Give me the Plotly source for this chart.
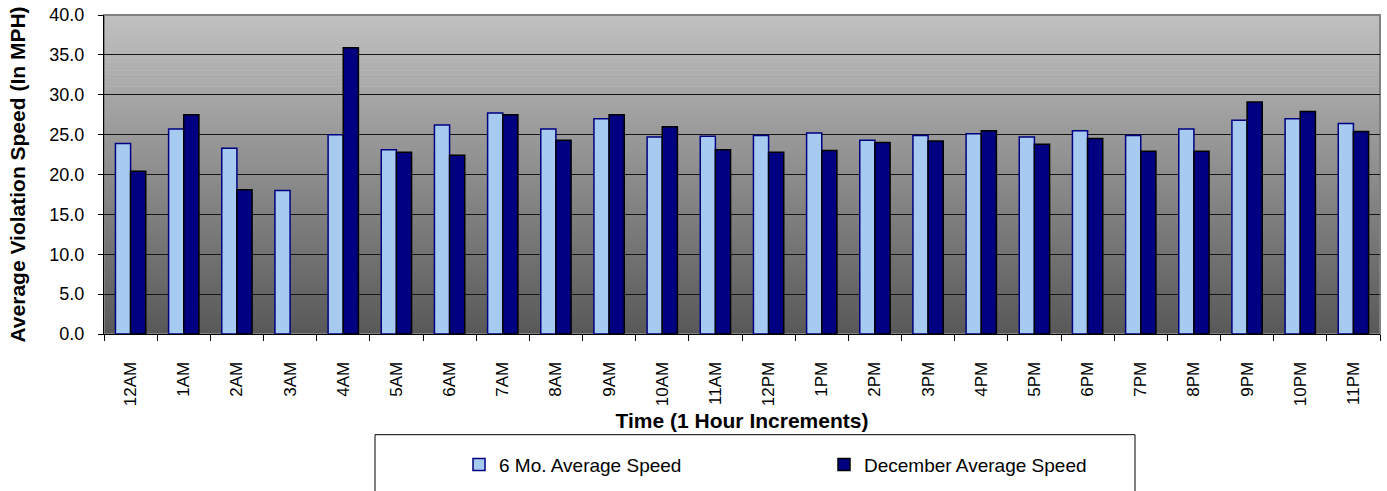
import plotly.graph_objects as go

hours = ["12AM", "1AM", "2AM", "3AM", "4AM", "5AM", "6AM", "7AM", "8AM", "9AM", "10AM", "11AM",
         "12PM", "1PM", "2PM", "3PM", "4PM", "5PM", "6PM", "7PM", "8PM", "9PM", "10PM", "11PM"]
six_month_avg = [23.9, 25.7, 23.3, 18.0, 25.0, 23.1, 26.2, 27.7, 25.7, 27.0, 24.7, 24.8,
                 24.9, 25.2, 24.3, 24.9, 25.1, 24.7, 25.5, 24.9, 25.7, 26.8, 27.0, 26.4]
december_avg = [20.4, 27.5, 18.1, None, 35.9, 22.8, 22.4, 27.5, 24.3, 27.5, 26.0, 23.1,
                22.8, 23.0, 24.0, 24.2, 25.5, 23.8, 24.5, 22.9, 22.9, 29.1, 27.9, 25.4]

series_names = ["6 Mo. Average Speed", "December Average Speed"]
y_ticks = [0, 5, 10, 15, 20, 25, 30, 35, 40]

FONT = "Liberation Sans, Arial, sans-serif"

fig = go.Figure()
fig.add_trace(go.Bar(
    x=hours, y=six_month_avg, name=series_names[0],
    marker=dict(color="#A6CAF0", line=dict(color="#000080", width=1.5)),
))
fig.add_trace(go.Bar(
    x=hours, y=december_avg, name=series_names[1],
    marker=dict(color="#000080", line=dict(color="#000000", width=1.5)),
))

# gradient background for plot area
shapes = []
n = 80
top = (192, 192, 192)
bot = (89, 89, 89)
for i in range(n):
    t = i / (n - 1)
    c = tuple(int(round(bot[k] + (top[k] - bot[k]) * t)) for k in range(3))
    shapes.append(dict(
        type="rect", xref="x domain", yref="y domain",
        x0=0, x1=1, y0=i / n, y1=(i + 1) / n + 0.002,
        fillcolor="rgb(%d,%d,%d)" % c, line=dict(width=0), layer="below",
    ))
# plot border (top/right gray)
shapes.append(dict(type="rect", xref="x domain", yref="y domain", x0=0, x1=1, y0=0, y1=1,
                   line=dict(color="#808080", width=2), fillcolor="rgba(0,0,0,0)", layer="below"))
# legend box
shapes.append(dict(type="rect", xref="paper", yref="paper",
                   x0=(375 - 104) / 1276, x1=(1135 - 104) / 1276,
                   y0=(334.3 - 493) / 319, y1=(334.3 - 435) / 319,
                   line=dict(color="#000000", width=1), fillcolor="rgba(0,0,0,0)", layer="above"))

fig.update_layout(
    width=1387, height=491,
    margin=dict(l=104, r=7, t=15, b=157, autoexpand=False),
    paper_bgcolor="white", plot_bgcolor="white",
    font=dict(family=FONT, color="black"),
    barmode="group", bargap=0.43, bargroupgap=0,
    showlegend=True,
    legend=dict(orientation="h", x=(459 - 104) / 1276, xanchor="left",
                y=(334.3 - 465) / 319, yanchor="middle",
                font=dict(size=19, family=FONT), bgcolor="rgba(0,0,0,0)",
                entrywidth=320, traceorder="normal"),
    shapes=shapes,
)

fig.update_yaxes(
    automargin=False,
    range=[0, 40], tickvals=y_ticks, tickformat=".1f",
    showgrid=True, gridcolor="#151515", gridwidth=1,
    zeroline=False, showline=True, linecolor="black", linewidth=1,
    ticks="outside", ticklen=5, tickcolor="black",
    tickfont=dict(size=18, family=FONT), ticklabelstandoff=10,
    title=dict(text="Average Violation Speed (In MPH)",
               font=dict(size=21, family=FONT, weight="bold"), standoff=18),
)
fig.update_xaxes(
    automargin=False,
    type="category", tickangle=-90, showgrid=False,
    showline=True, linecolor="black", linewidth=1,
    ticks="outside", tickson="boundaries", ticklen=6, tickcolor="black",
    tickfont=dict(size=17, family=FONT), ticklabelstandoff=20,
    title=dict(text="Time (1 Hour Increments)",
               font=dict(size=21, family=FONT, weight="bold"), standoff=8),
)

fig.write_html("out.html", config={"displayModeBar": False},
               post_script="document.body.style.margin='0';")
